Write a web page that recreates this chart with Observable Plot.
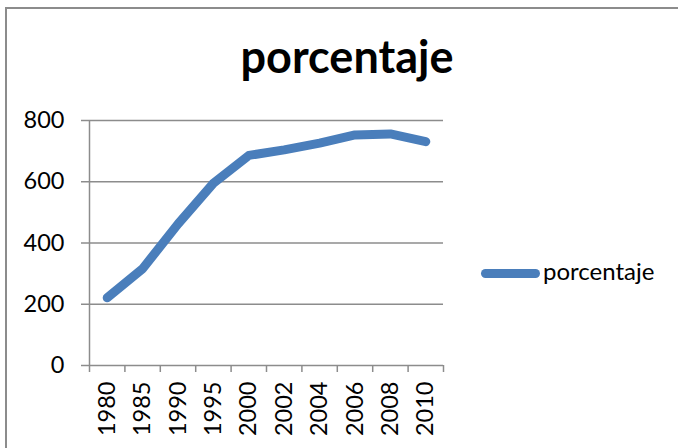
<!DOCTYPE html>
<html>
<head>
<meta charset="utf-8">
<script src="https://cdn.jsdelivr.net/npm/d3@7"></script>
<script src="https://cdn.jsdelivr.net/npm/@observablehq/plot@0.6"></script>
<style>
  html, body { margin: 0; padding: 0; background: #fff; }
  #wrap { position: relative; width: 678px; height: 448px; overflow: hidden; background: #fff; font-family: Lato, "Open Sans", sans-serif; }
  #frame { position: absolute; left: 5px; top: 7px; width: 900px; height: 900px; border: 2px solid #8c8c8c; box-sizing: border-box; }
  #title { position: absolute; left: 0; top: 34px; width: 694px; text-align: center; font: bold 45px Lato, sans-serif; line-height: 45px; color: #000; }
  #chart { position: absolute; left: 0; top: 0; }
  #legend { position: absolute; left: 481px; top: 259px; font: 24px Lato, sans-serif; line-height: 24px; color: #000; white-space: nowrap; }
  #legend .swatch { display: inline-block; width: 59px; height: 9px; border-radius: 4.5px; background: #4A7EBB; vertical-align: middle; margin-right: 3px; }
</style>
</head>
<body>
<div id="wrap">
  <div id="frame"></div>
  <div id="chart"></div>
  <div id="title">porcentaje</div>
  <div id="legend"><span class="swatch"></span><span>porcentaje</span></div>
</div>
<script>
const years = ["1980", "1985", "1990", "1995", "2000", "2002", "2004", "2006", "2008", "2010"];
const values = [221, 316, 462, 595, 686, 704, 726, 753, 756, 731];
const yTicks = [0, 200, 400, 600, 800];
const seriesName = "porcentaje";
const lineColor = "#4A7EBB";
const gridColor = "#8c8c8c";

const data = years.map((year, i) => ({year, i, value: values[i]}));

const chart = Plot.plot({
  width: 678,
  height: 448,
  marginLeft: 89,
  marginRight: 235,
  marginTop: 120,
  marginBottom: 83,
  style: {fontFamily: "Lato, sans-serif", fontSize: "23.5px", color: "#000", background: "transparent", overflow: "visible"},
  x: {type: "linear", domain: [0, years.length], axis: null},
  y: {domain: [0, 800], axis: null},
  marks: [
    Plot.ruleY(yTicks, {stroke: gridColor, strokeWidth: 1.5}),
    Plot.ruleX([0], {stroke: gridColor, strokeWidth: 1.5}),
    Plot.axisY({ticks: yTicks, tickSize: 8, tickPadding: 17, stroke: gridColor, strokeWidth: 1.5, label: null, tickFormat: d => String(d), fill: "#000"}),
    Plot.axisX({ticks: d3.range(years.length + 1), tickSize: 7, stroke: gridColor, strokeWidth: 1.5, tickFormat: () => "", label: null}),
    Plot.axisX({ticks: years.map((_, i) => i + 0.5), tickSize: 0, tickPadding: 16, tickRotate: -90, tickFormat: v => years[Math.floor(v)], label: null, fill: "#000"}),
    Plot.line(data, {x: d => d.i + 0.5, y: "value", stroke: lineColor, strokeWidth: 9, strokeLinecap: "round", strokeLinejoin: "round"})
  ]
});
document.getElementById("chart").appendChild(chart);
document.getElementById("title").textContent = seriesName;
document.querySelector("#legend span:last-child").textContent = seriesName;
</script>
</body>
</html>
